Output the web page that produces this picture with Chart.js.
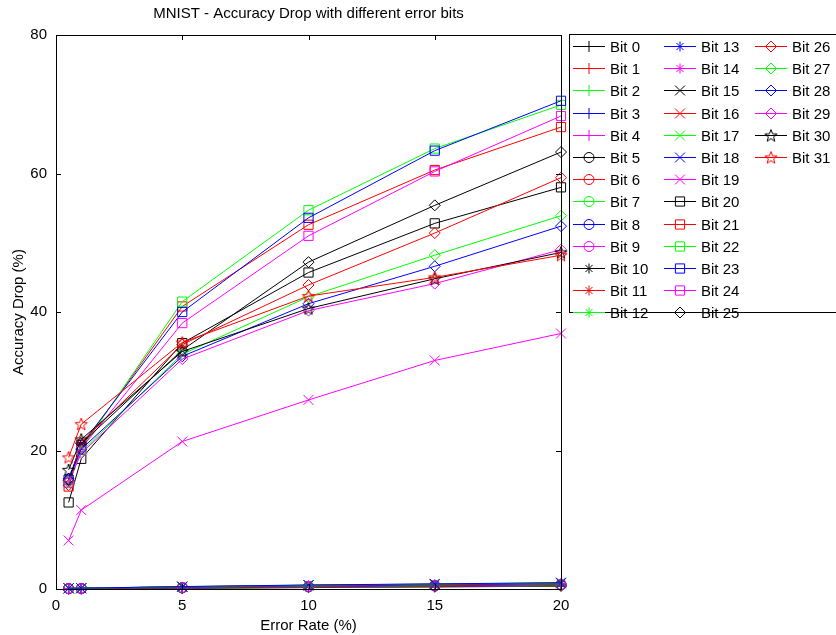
<!DOCTYPE html>
<html>
<head>
<meta charset="utf-8">
<title>MNIST - Accuracy Drop with different error bits</title>
<script src="https://cdn.jsdelivr.net/npm/chart.js@4.4.1/dist/chart.umd.min.js"></script>
<style>
  html, body { margin: 0; padding: 0; background: #fff; }
  #wrap { position: relative; width: 836px; height: 635px; }
</style>
</head>
<body>
<div id="wrap"><canvas id="chart" width="836" height="635"></canvas></div>
<script>
(function(){
  'use strict';

  /* ---------- data ---------- */
  const errorRates = [0.5, 1, 5, 10, 15, 20];
  const xTicks = [0, 5, 10, 15, 20];
  const yTicks = [0, 20, 40, 60, 80];

  // bits 0..18 : barely any drop
  const lowBitDrops = [
    [0.02, 0.03, 0.10, 0.20, 0.30, 0.40],
    [0.03, 0.04, 0.12, 0.22, 0.33, 0.45],
    [0.02, 0.03, 0.11, 0.24, 0.35, 0.48],
    [0.04, 0.05, 0.14, 0.27, 0.38, 0.50],
    [0.03, 0.05, 0.15, 0.28, 0.40, 0.52],
    [0.04, 0.06, 0.16, 0.30, 0.42, 0.55],
    [0.05, 0.06, 0.18, 0.32, 0.45, 0.58],
    [0.05, 0.07, 0.19, 0.34, 0.47, 0.60],
    [0.06, 0.07, 0.20, 0.36, 0.50, 0.63],
    [0.06, 0.08, 0.22, 0.38, 0.52, 0.66],
    [0.07, 0.08, 0.23, 0.40, 0.55, 0.69],
    [0.07, 0.09, 0.25, 0.42, 0.57, 0.72],
    [0.08, 0.09, 0.26, 0.44, 0.60, 0.75],
    [0.08, 0.10, 0.28, 0.47, 0.62, 0.78],
    [0.09, 0.10, 0.30, 0.50, 0.65, 0.81],
    [0.09, 0.11, 0.31, 0.52, 0.67, 0.84],
    [0.10, 0.11, 0.33, 0.54, 0.70, 0.87],
    [0.10, 0.12, 0.34, 0.56, 0.72, 0.89],
    [0.11, 0.12, 0.35, 0.58, 0.74, 0.91]
  ];
  // bit 19
  const bit19Drop = [7.0, 11.4, 21.3, 27.3, 33.0, 36.9];
  // bits 20..31
  const highBitDrops = [
    [12.5, 18.8, 35.5, 45.7, 52.8, 58.0],
    [14.8, 20.5, 40.8, 52.6, 60.5, 66.7],
    [15.5, 20.2, 41.5, 54.7, 63.6, 69.9],
    [15.8, 20.8, 40.0, 53.6, 63.3, 70.5],
    [15.3, 20.3, 38.4, 51.0, 60.3, 68.3],
    [15.7, 21.0, 34.5, 47.2, 55.4, 63.1],
    [15.0, 21.2, 35.3, 43.9, 51.4, 59.4],
    [15.4, 19.8, 33.9, 42.2, 48.2, 53.9],
    [15.9, 20.2, 33.6, 41.2, 46.6, 52.4],
    [15.5, 19.6, 33.2, 40.2, 44.1, 49.0],
    [17.2, 21.6, 34.3, 40.5, 44.8, 48.6],
    [19.0, 23.8, 35.6, 42.3, 45.0, 48.2]
  ];

  /* ---------- styles (octave-ish) ---------- */
  const lineColors = ['#000000', '#ff0000', '#00ff00', '#0000ff', '#ff00ff'];
  const markerKinds = ['cross', 'circle', 'star', 'crossRot', 'rect', 'rectRot', 'pentagram'];
  const markerRadius = { cross: 5.5, circle: 5, star: 5, crossRot: 7, rect: 6.5, rectRot: 5.5, pentagram: 6.5 };

  function makePentagram(color, r){
    const s = Math.ceil(r * 2 + 3);
    const cv = document.createElement('canvas');
    cv.width = s; cv.height = s;
    const g = cv.getContext('2d');
    g.strokeStyle = color;
    g.lineWidth = 1;
    g.beginPath();
    for (let k = 0; k < 10; k++) {
      const ang = -Math.PI / 2 + k * Math.PI / 5;
      const rr = (k % 2) ? r * 0.42 : r;
      const px = s / 2 + rr * Math.cos(ang), py = s / 2 + rr * Math.sin(ang) + 0.5;
      if (k === 0) g.moveTo(px, py); else g.lineTo(px, py);
    }
    g.closePath();
    g.stroke();
    return cv;
  }

  const allDrops = lowBitDrops.concat([bit19Drop], highBitDrops);

  const datasets = allDrops.map((vals, i) => {
    const color = lineColors[i % 5];
    const kind = markerKinds[Math.floor(i / 5)];
    const style = kind === 'pentagram' ? makePentagram(color, markerRadius.pentagram) : kind;
    return {
      label: 'Bit ' + i,
      data: errorRates.map((x, j) => ({ x: x, y: vals[j] })),
      borderColor: color,
      backgroundColor: 'rgba(0,0,0,0)',
      borderWidth: 1,
      pointStyle: style,
      pointRadius: markerRadius[kind],
      pointBorderColor: color,
      pointBackgroundColor: 'rgba(0,0,0,0)',
      pointBorderWidth: 1,
      tension: 0,
      clip: false,
      order: 31 - i
    };
  });

  /* ---------- plugins ---------- */
  // inward ticks on all four sides + top/right frame
  const frameTicks = {
    id: 'frameTicks',
    afterDatasetsDraw(chart){
      const { ctx, chartArea: a, scales } = chart;
      ctx.save();
      ctx.strokeStyle = '#000';
      ctx.lineWidth = 1;
      ctx.beginPath();
      ctx.rect(Math.round(a.left) + 0.5, Math.round(a.top) + 0.5, Math.round(a.right - a.left), Math.round(a.bottom - a.top));
      const tl = 5;
      xTicks.forEach(v => {
        const px = Math.round(scales.x.getPixelForValue(v)) + 0.5;
        ctx.moveTo(px, a.bottom); ctx.lineTo(px, a.bottom - tl);
        ctx.moveTo(px, a.top); ctx.lineTo(px, a.top + tl);
      });
      yTicks.forEach(v => {
        const py = Math.round(scales.y.getPixelForValue(v)) + 0.5;
        ctx.moveTo(a.left, py); ctx.lineTo(a.left + tl, py);
        ctx.moveTo(a.right, py); ctx.lineTo(a.right - tl, py);
      });
      ctx.stroke();
      ctx.restore();
    }
  };

  // three-column legend box to the right of the axes
  const boxLegend = {
    id: 'boxLegend',
    afterDraw(chart){
      const ctx = chart.ctx;
      const box = { left: 569, top: 34, right: 845, bottom: 312 };
      const rowH = 22.2, firstY = 46, rows = 13;
      const colX = [573, 664, 755];
      const lineLen = 32;
      ctx.save();
      ctx.fillStyle = '#fff';
      ctx.fillRect(box.left, box.top, box.right - box.left, box.bottom - box.top);
      ctx.strokeStyle = '#000';
      ctx.lineWidth = 1;
      ctx.strokeRect(box.left + 0.5, box.top + 0.5, box.right - box.left, box.bottom - box.top);
      ctx.font = '15px "Liberation Sans", Arial, sans-serif';
      ctx.textBaseline = 'middle';
      ctx.textAlign = 'left';
      chart.data.datasets.forEach((ds, i) => {
        const col = Math.floor(i / rows), row = i % rows;
        const x0 = colX[col], y = Math.round(firstY + row * rowH) + 0.5;
        ctx.strokeStyle = ds.borderColor;
        ctx.lineWidth = 1;
        ctx.beginPath();
        ctx.moveTo(x0, y); ctx.lineTo(x0 + lineLen, y);
        ctx.stroke();
        if (Chart.helpers && Chart.helpers.drawPoint) {
          ctx.fillStyle = 'rgba(0,0,0,0)';
          Chart.helpers.drawPoint(ctx, { pointStyle: ds.pointStyle, rotation: 0, radius: ds.pointRadius, borderWidth: 1 }, x0 + lineLen / 2, y);
        }
        ctx.fillStyle = '#000';
        ctx.fillText(ds.label, x0 + lineLen + 5, y + 1);
      });
      ctx.restore();
    }
  };

  /* ---------- chart ---------- */
  const font = '"Liberation Sans", Arial, Helvetica, sans-serif';
  Chart.defaults.font.family = font;
  Chart.defaults.color = '#000';

  new Chart(document.getElementById('chart'), {
    type: 'line',
    data: { datasets },
    options: {
      responsive: false,
      animation: false,
      devicePixelRatio: 1,
      layout: { padding: { left: 0, top: 0, right: 275, bottom: 0 } },
      plugins: {
        legend: { display: false },
        tooltip: { enabled: false },
        title: {
          display: true,
          fullSize: false,
          text: 'MNIST - Accuracy Drop with different error bits',
          color: '#000',
          font: { family: font, size: 15, weight: 'normal', lineHeight: 1.2 },
          padding: { top: 5, bottom: 12 }
        }
      },
      scales: {
        x: {
          type: 'linear',
          min: 0, max: 20,
          afterBuildTicks: s => { s.ticks = xTicks.map(v => ({ value: v })); },
          afterFit: s => { s.height = 46; },
          grid: { display: false, drawTicks: false },
          border: { display: true, color: '#000', width: 1 },
          ticks: { font: { size: 15 }, color: '#000', padding: 8, maxRotation: 0 },
          title: { display: true, text: 'Error Rate (%)', font: { size: 15 }, color: '#000', padding: 0 }
        },
        y: {
          type: 'linear',
          min: 0, max: 80,
          afterBuildTicks: s => { s.ticks = yTicks.map(v => ({ value: v })); },
          afterFit: s => { s.width = 56; },
          grid: { display: false, drawTicks: false },
          border: { display: true, color: '#000', width: 1 },
          ticks: { font: { size: 15 }, color: '#000', padding: 9 },
          title: { display: true, text: 'Accuracy Drop (%)', font: { size: 15 }, color: '#000', padding: 10 }
        }
      }
    },
    plugins: [frameTicks, boxLegend]
  });
})();
</script>
</body>
</html>
